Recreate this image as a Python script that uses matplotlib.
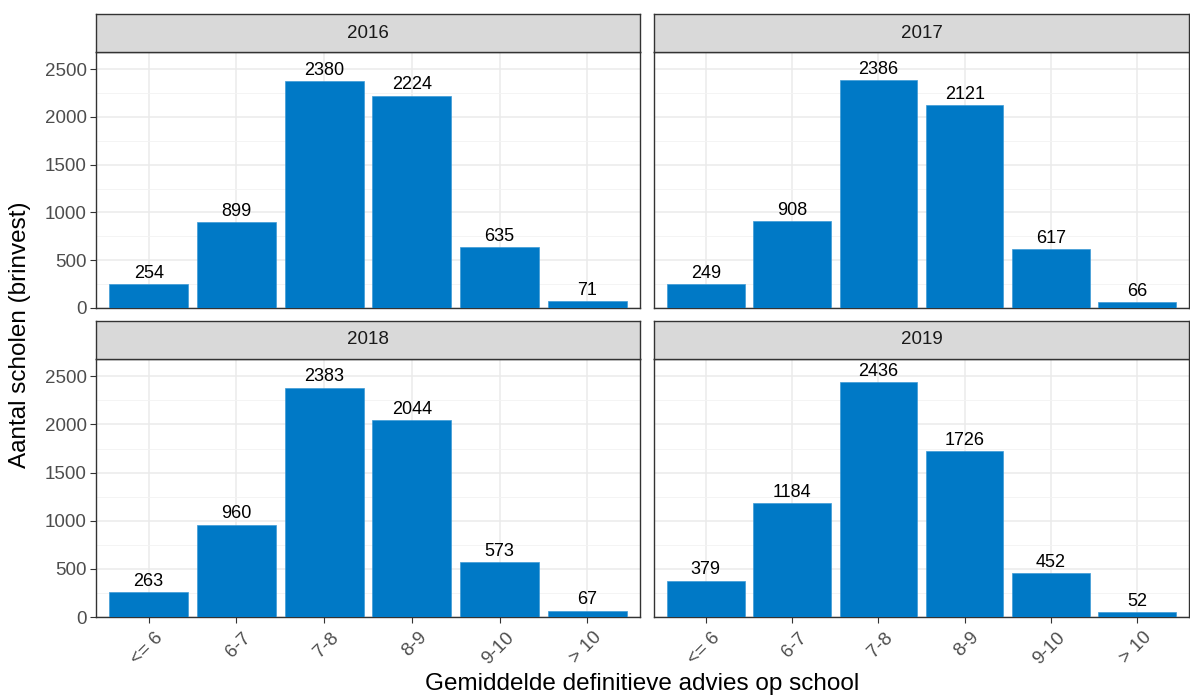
import matplotlib
matplotlib.use("Agg")
import matplotlib.pyplot as plt
import matplotlib.transforms as mtransforms
from matplotlib.ticker import MultipleLocator

plt.rcParams['font.family'] = ['Liberation Sans', 'DejaVu Sans']

categories = ["<= 6", "6-7", "7-8", "8-9", "9-10", "> 10"]
years = ["2016", "2017", "2018", "2019"]
values_2016 = [254, 899, 2380, 2224, 635, 71]
values_2017 = [249, 908, 2386, 2121, 617, 66]
values_2018 = [263, 960, 2383, 2044, 573, 67]
values_2019 = [379, 1184, 2436, 1726, 452, 52]
series = [values_2016, values_2017, values_2018, values_2019]

W, H = 1190, 697
fig = plt.figure(figsize=(W / 100, H / 100), dpi=100)

bar_color = "#0079C6"
ymax = max(max(s) for s in series) * 1.1

cols = [(96, 640), (654, 1189)]
rows = [((14, 52), (52, 308)), ((321, 359), (359, 617))]

def px_rect(x0, x1, y0, y1):
    return [x0 / W, 1 - y1 / H, (x1 - x0) / W, (y1 - y0) / H]

for i, (yr, vals) in enumerate(zip(years, series)):
    r, c = divmod(i, 2)
    (sy0, sy1), (py0, py1) = rows[r]
    x0, x1 = cols[c]
    ax = fig.add_axes(px_rect(x0, x1, py0, py1))
    xs = list(range(len(categories)))
    ax.bar(xs, vals, width=0.9, color=bar_color, edgecolor="#3D9AD6", linewidth=0.5, zorder=3)
    for x, v in zip(xs, vals):
        ax.annotate(str(v), (x, v), xytext=(0, 1.5), textcoords="offset points",
                    ha="center", va="bottom", fontsize=13, color="black", zorder=4)
    ax.set_xlim(-0.6, len(categories) - 1 + 0.6)
    ax.set_ylim(0, ymax)
    ax.yaxis.set_major_locator(MultipleLocator(500))
    ax.yaxis.set_minor_locator(MultipleLocator(250))
    ax.set_xticks(xs)
    ax.grid(which="major", color="#EBEBEB", linewidth=1.1, zorder=0)
    ax.grid(which="minor", axis="y", color="#F3F3F3", linewidth=0.6, zorder=0)
    ax.tick_params(which="minor", length=0)
    ax.tick_params(which="major", length=4, width=0.8, color="#333333",
                   labelsize=13.5, labelcolor="#4D4D4D", pad=2.5)
    for s in ax.spines.values():
        s.set_color("#333333")
        s.set_linewidth(1.0)
    if c == 0:
        ax.set_yticklabels([str(int(t)) for t in ax.get_yticks()])
    else:
        ax.tick_params(axis="y", labelleft=False, length=0)
    if r == 1:
        ax.set_xticklabels(categories, rotation=45, ha="right", va="top",
                           rotation_mode="anchor")
        offset = mtransforms.ScaledTranslation(6 / 100, -3 / 100, fig.dpi_scale_trans)
        for lab in ax.get_xticklabels():
            lab.set_transform(lab.get_transform() + offset)
    else:
        ax.tick_params(axis="x", labelbottom=False, length=0)
    # strip
    sax = fig.add_axes(px_rect(x0, x1, sy0, sy1))
    sax.set_xticks([]); sax.set_yticks([])
    sax.set_facecolor("#D9D9D9")
    for s in sax.spines.values():
        s.set_color("#333333")
        s.set_linewidth(1.0)
    sax.text(0.5, 0.5, yr, ha="center", va="center", fontsize=13.5,
             color="#1A1A1A", transform=sax.transAxes)

fig.text((96 + 1189) / 2 / W, 1 - 684 / H, "Gemiddelde definitieve advies op school",
         ha="center", va="center", fontsize=17.5, color="black")
fig.text(20 / W, 1 - ((52 + 617) / 2) / H, "Aantal scholen (brinvest)",
         ha="center", va="center", rotation=90, fontsize=17.5, color="black")

fig.savefig("out.png", dpi=100)
